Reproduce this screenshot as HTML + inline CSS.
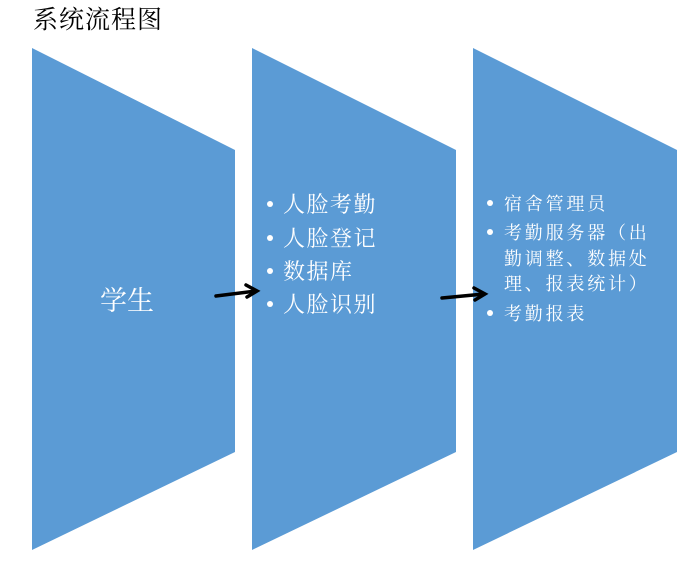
<!DOCTYPE html>
<html><head><meta charset="utf-8"><style>
body{margin:0;background:#fff;width:688px;height:562px;overflow:hidden}
svg text{font-family:"Liberation Serif","Noto Serif CJK SC",serif}
</style></head><body>
<svg width="688" height="562" xmlns="http://www.w3.org/2000/svg">
<text x="33" y="28" font-size="25" fill="#000" letter-spacing="1">系统流程图</text>
<g fill="#5B9BD5">
<polygon points="32,48 235,150 235,452 32,550"/>
<polygon points="252,48 456,150 456,452 252,550"/>
<polygon points="473,48 677,150 677,452 473,550"/>
</g>
<text x="100" y="310" font-size="27" fill="#fff">学生</text>
<g fill="#fff" font-size="22" letter-spacing="1.5">
<circle cx="270" cy="204" r="3"/><text x="283" y="212">人脸考勤</text>
<circle cx="270" cy="238" r="3"/><text x="283" y="246">人脸登记</text>
<circle cx="270" cy="271" r="3"/><text x="283" y="279">数据库</text>
<circle cx="270" cy="304" r="3"/><text x="283" y="312">人脸识别</text>
</g>
<g fill="#fff" font-size="18" letter-spacing="2.8">
<circle cx="490" cy="203" r="3"/><text x="504" y="210">宿舍管理员</text>
<circle cx="490" cy="232" r="3"/><text x="504" y="239">考勤服务器（出</text>
<text x="504" y="265">勤调整、数据处</text>
<text x="504" y="290">理、报表统计）</text>
<circle cx="490" cy="313" r="3"/><text x="504" y="320">考勤报表</text>
</g>
<g stroke="#000" stroke-width="3.5" fill="none" stroke-linecap="round">
<line x1="216" y1="296" x2="256" y2="291"/>
<polyline points="246,285 257,291 247,297"/>
<line x1="442" y1="298" x2="484" y2="294"/>
<polyline points="474,288 485,294 475,300"/>
</g>
</svg>
</body></html>
